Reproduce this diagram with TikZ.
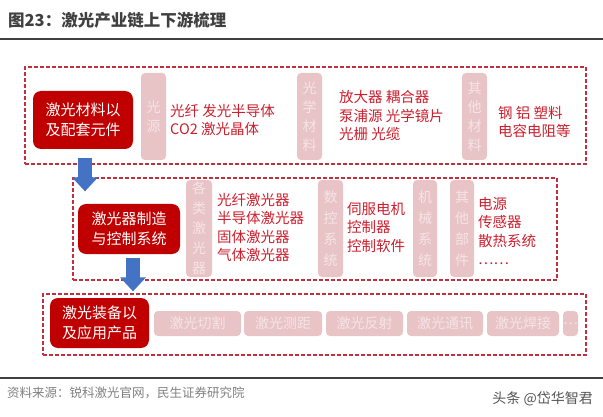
\documentclass[tikz,border=0pt]{standalone}
\usepackage{fontspec}
\setmainfont{Noto Sans CJK SC}
\usetikzlibrary{arrows.meta,calc}
\definecolor{darkred}{HTML}{C00000}
\definecolor{framered}{HTML}{C0303F}
\definecolor{redtext}{HTML}{CC1F2D}
\definecolor{pinkbox}{HTML}{E8C4C7}
\definecolor{pinktext}{HTML}{F6E4E5}
\definecolor{flowblue}{HTML}{4472C4}
\definecolor{inkgray}{HTML}{404040}
\tikzstyle{frame} = [draw=framered, dash pattern=on 4pt off 2pt, line width=1.2pt, inner sep=0pt]
\tikzstyle{stage} = [fill=darkred, rounded corners=8pt, text=white, align=center, inner sep=0pt,
  font=\fontsize{15}{19.5}\selectfont]
\tikzstyle{cat} = [fill=pinkbox, rounded corners=4pt, text=pinktext, align=center, inner sep=0pt,
  font=\fontsize{14}{19}\selectfont]
\tikzstyle{part} = [text=redtext, anchor=west, align=left, inner sep=0pt,
  font=\fontsize{14.5}{18.5}\selectfont]
\tikzstyle{flow} = [line width=13.5pt, draw=flowblue, -{Triangle[width=25pt,length=14pt]}]

\begin{document}
\begin{tikzpicture}[x=1pt,y=-1pt]
\useasboundingbox (0,0) rectangle (603,417);
% title and rules
\node[anchor=west, inner sep=0pt, text=inkgray, font=\fontsize{16.5}{20}\selectfont\bfseries]
  (title) at (8,20) {图23：激光产业链上下游梳理};
\draw[inkgray, line width=2.5pt] (0,39) -- (603,39);
\draw[inkgray, line width=2.5pt] (0,378) -- (603,378);
\node[anchor=west, inner sep=0pt, text=gray, font=\fontsize{12.5}{15}\selectfont]
  (source) at (7,393) {资料来源：锐科激光官网，民生证券研究院};
\node[anchor=east, inner sep=0pt, text=inkgray!90, font=\fontsize{14}{16}\selectfont]
  (mark) at (593,399) {头条 @岱华智君};

% dashed frames
\node[frame, minimum width=561, minimum height=97] (frame1) at (305.5,115.5) {};
\node[frame, minimum width=484, minimum height=102] (frame2) at (315,229) {};
\node[frame, minimum width=543, minimum height=61] (frame3) at (314.5,324.5) {};

% stages
\node[stage, minimum width=100, minimum height=58] (red1) at (83,120) {激光材料以\\及配套元件};
\node[stage, minimum width=102, minimum height=50] (red2) at (129,229) {激光器制造\\与控制系统};
\node[stage, minimum width=99, minimum height=50] (red3) at (99.5,323) {激光装备以\\及应用产品};

% arrows
\draw[flow] ($(frame1.south -| red1)+(2,-7)$) -- ($(frame2.north -| red1)+(2,14)$);
\draw[flow] ($(red2.south)+(4,4)$) -- ($(frame3.north -| red2)+(4,-2)$);

% upstream
\node[cat, minimum width=25, minimum height=87] (src) at (153.5,116.5) {光\\源};
\node[part] (srcitems) at (170,120) {光纤 发光半导体\\CO2 激光晶体};
\node[cat, minimum width=25, minimum height=87] (optic) at (309.5,116.5) {光\\学\\材\\料};
\node[part] (opticitems) at (339,115.5) {放大器 耦合器\\泵浦源 光学镜片\\光栅 光缆};
\node[cat, minimum width=25, minimum height=87] (other) at (474.5,116.5) {其\\他\\材\\料};
\node[part] (otheritems) at (498,122) {钢 铝 塑料\\电容电阻等};

% midstream
\node[cat, minimum width=26, minimum height=97, font=\fontsize{14}{20}\selectfont]
  (laser) at (199,228.5) {各\\类\\激\\光\\器};
\node[part] (laseritems) at (217,227.5) {光纤激光器\\半导体激光器\\固体激光器\\气体激光器};
\node[cat, minimum width=25, minimum height=97, font=\fontsize{14}{21}\selectfont]
  (nc) at (330.5,228.5) {数\\控\\系\\统};
\node[part] (ncitems) at (347,227) {伺服电机\\控制器\\控制软件};
\node[cat, minimum width=24, minimum height=97, font=\fontsize{14}{21}\selectfont]
  (mech) at (425,228.5) {机\\械\\系\\统};
\node[cat, minimum width=24, minimum height=97, font=\fontsize{14}{21}\selectfont]
  (misc) at (462,228.5) {其\\他\\部\\件};
\node[part] (miscitems) at (478,231) {电源\\传感器\\散热系统\\……};

% downstream
\foreach \name/\x/\w/\txt in {cut/197.5/87/激光切割, range/283/78/激光测距, refl/364.5/77/激光反射,
    comm/445/76/激光通讯, weld/523/72/激光焊接, more/570.5/15/\dots}
  \node[cat, minimum width=\w, minimum height=25] (\name) at (\x,323.5) {\txt};
\end{tikzpicture}
\end{document}
